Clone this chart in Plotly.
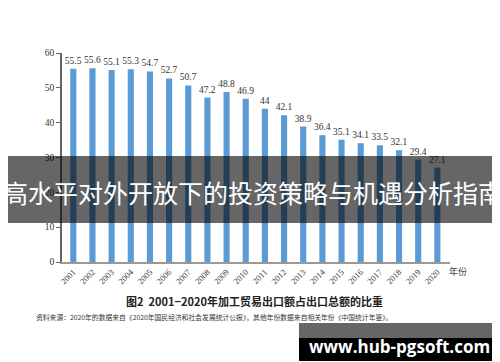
import plotly.graph_objects as go

years = [str(y) for y in range(2001, 2021)]
shares = [55.5, 55.6, 55.1, 55.3, 54.7, 52.7, 50.7, 47.2, 48.8, 46.9,
          44, 42.1, 38.9, 36.4, 35.1, 34.1, 33.5, 32.1, 29.4, 27.1]
value_labels = [f"{v:g}" for v in shares]
y_ticks = [0, 10, 20, 30, 40, 50, 60]

W, H = 500, 362
L, R, T, B = 54, 442, 45, 254


def px_x(px):
    return (px - L) / (R - L)


def px_y(py):
    return (B - py) / (B - T)


serif = "Liberation Serif"
cjk = "Noto Sans CJK SC"

fig = go.Figure()
fig.add_trace(go.Bar(
    x=years, y=shares, text=value_labels, textposition="outside",
    textfont=dict(family=serif, size=9.5, color="#333"),
    constraintext="none",
    marker=dict(color="#5b9bd5", line=dict(width=0)),
    width=0.32, cliponaxis=False,
))

fig.update_layout(
    width=W, height=H,
    margin=dict(l=L, r=W - R, t=T, b=H - B, autoexpand=False),
    plot_bgcolor="white", paper_bgcolor="white",
    showlegend=False,
)
fig.update_xaxes(
    type="category", range=[-0.59, 19.66], automargin=False,
    showline=True, linecolor="#999", linewidth=1.5,
    ticks="", tickangle=-45, showgrid=False,
    tickfont=dict(family=serif, size=8.5, color="#333"),
)
fig.update_yaxes(
    range=[0, 60], tickvals=y_ticks, automargin=False,
    showline=True, linecolor="#666", linewidth=1.5,
    ticks="outside", ticklen=4, tickcolor="#666", showgrid=False,
    zeroline=False,
    tickfont=dict(family=serif, size=9.5, color="#333"),
)

shapes = [
    # banner
    dict(type="rect", xref="paper", yref="paper", layer="above",
         x0=px_x(0), x1=px_x(500), y0=px_y(215), y1=px_y(148),
         fillcolor="rgba(0,0,0,0.6)", line=dict(width=0)),
    # watermark boxes
    dict(type="rect", xref="paper", yref="paper", layer="above",
         x0=px_x(291), x1=px_x(491), y0=px_y(330), y1=px_y(315),
         fillcolor="rgba(0,0,0,0.6)", line=dict(width=0)),
    dict(type="rect", xref="paper", yref="paper", layer="above",
         x0=px_x(291), x1=px_x(491), y0=px_y(353), y1=px_y(330),
         fillcolor="#000", line=dict(width=0)),
]
fig.update_layout(shapes=shapes)

annotations = [
    dict(text="年份", x=px_x(450), y=px_y(263), font=dict(family=cjk, size=9, color="#444")),
    dict(text="<b>图2  2001−2020年加工贸易出口额占出口总额的比重</b>", x=px_x(246), y=px_y(293),
         font=dict(family=cjk, size=11, color="#222")),
    dict(text="资料来源：2020年的数据来自《2020年国民经济和社会发展统计公报》，其他年份数据来自相关年份《中国统计年鉴》。",
         x=px_x(206), y=px_y(309), font=dict(family=cjk, size=6.8, color="#333")),
    dict(text="<b>www.hub-pgsoft.com</b>", x=px_x(391), y=px_y(338),
         font=dict(family="Open Sans", size=17, color="white")),
]
for a in annotations:
    a.update(xanchor="center")
annotations.append(
    dict(text="高水平对外开放下的投资策略与机遇分析指南", x=px_x(-6), y=px_y(183.5),
         xanchor="left", align="left", borderpad=0,
         font=dict(family=cjk, size=25, color="white")))
for a in annotations:
    a.update(xref="paper", yref="paper", showarrow=False, yanchor="middle")
fig.update_layout(annotations=annotations)

fig.write_html("out.html")
